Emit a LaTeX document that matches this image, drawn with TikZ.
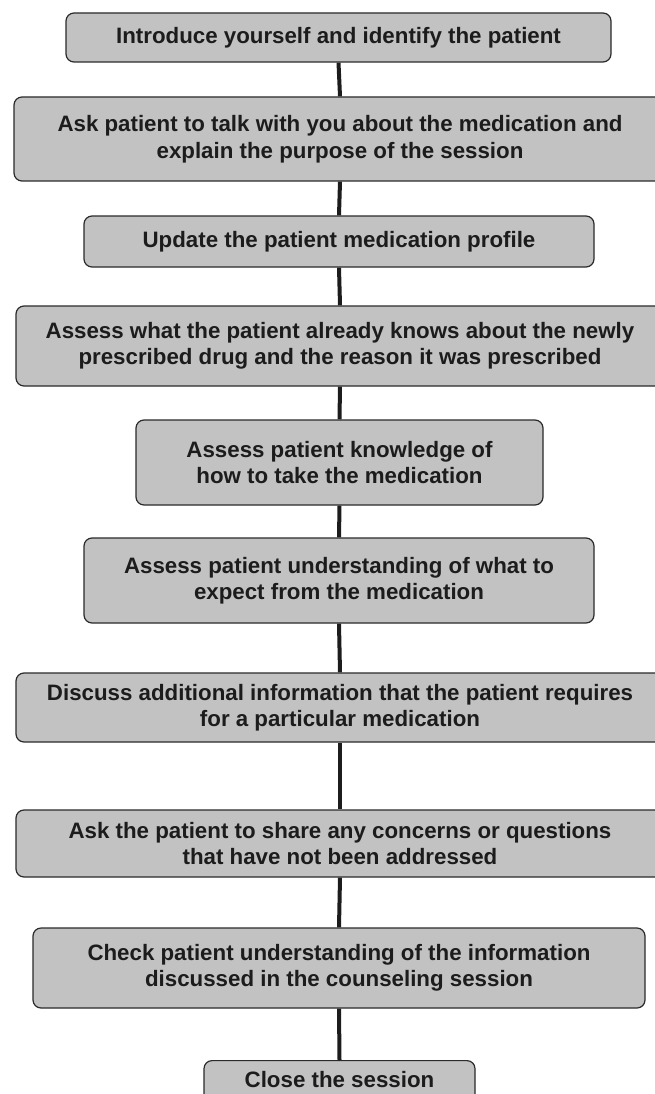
\documentclass[tikz,border=0pt]{standalone}
\usepackage{fontspec}
\setmainfont{Liberation Sans}
\definecolor{boxfill}{HTML}{C2C2C2}
\definecolor{boxline}{HTML}{2A2A2A}
\definecolor{inkc}{HTML}{1C1C1C}
\begin{document}
\begin{tikzpicture}[x=1pt,y=-1pt,
  stepbox/.style={draw=boxline, line width=1.2pt, fill=boxfill, rounded corners=8pt,
    inner sep=0pt, align=center, text=inkc,
    font=\fontsize{22.3}{26.5}\selectfont\bfseries},
  link/.style={draw=inkc, line width=4pt}]
\useasboundingbox (0,0) rectangle (655,1094);
\clip (0,0) rectangle (655,1094);
\node[stepbox, minimum width=545pt, minimum height=49pt] (b1) at (338.5,37.5) {Introduce yourself and identify the patient};
\node[stepbox, minimum width=652pt, minimum height=84pt] (b2) at (340,139) {Ask patient to talk with you about the medication and\\explain the purpose of the session};
\node[stepbox, minimum width=510pt, minimum height=51pt] (b3) at (339,241.5) {Update the patient medication profile};
\node[stepbox, minimum width=648pt, minimum height=80pt] (b4) at (340,346) {Assess what the patient already knows about the newly\\prescribed drug and the reason it was prescribed};
\node[stepbox, minimum width=407pt, minimum height=85pt] (b5) at (339.5,462.5) {Assess patient knowledge of\\how to take the medication};
\node[stepbox, minimum width=510pt, minimum height=85pt] (b6) at (339,580.5) {Assess patient understanding of what to\\expect from the medication};
\node[stepbox, minimum width=648pt, minimum height=69pt] (b7) at (340,707.5) {Discuss additional information that the patient requires\\for a particular medication};
\node[stepbox, minimum width=648pt, minimum height=67pt] (b8) at (340,843.5) {Ask the patient to share any concerns or questions\\that have not been addressed};
\node[stepbox, minimum width=612pt, minimum height=80pt] (b9) at (339,968) {Check patient understanding of the information\\discussed in the counseling session};
\node[stepbox, minimum width=271pt, minimum height=60pt, anchor=north] (b10) at (339.5,1060) {\raisebox{0pt}[0pt][0pt]{\makebox[0pt]{\raisebox{3pt}{Close the session}}}};
\draw[link] (b1.south) -- (b2.north);
\draw[link] (b2.south) -- (b3.north);
\draw[link] (b3.south) -- (b4.north);
\draw[link] (b4.south) -- (b5.north);
\draw[link] (b5.south) -- (b6.north);
\draw[link] (b6.south) -- (b7.north);
\draw[link] (b7.south) -- (b8.north);
\draw[link] (b8.south) -- (b9.north);
\draw[link] (b9.south) -- (b10.north);
\end{tikzpicture}
\end{document}
